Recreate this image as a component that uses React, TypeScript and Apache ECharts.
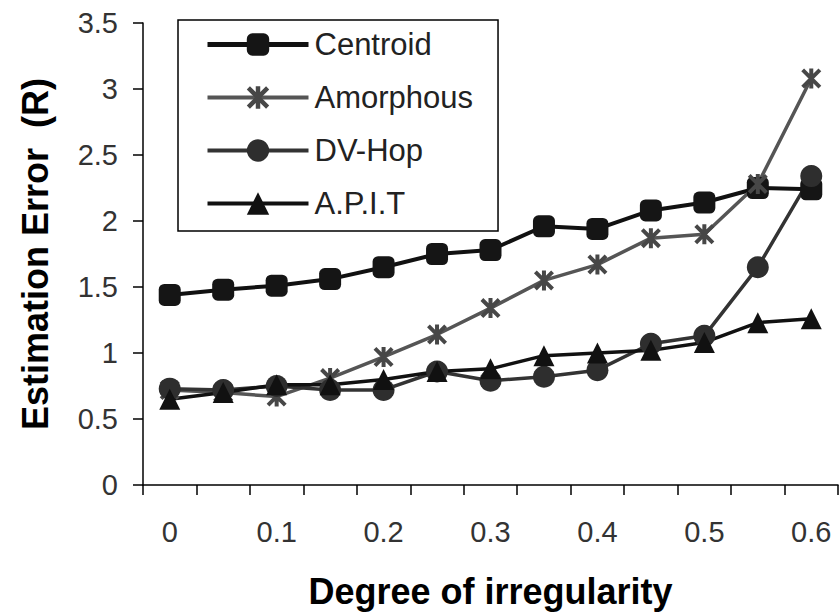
import React, { useEffect, useRef } from "react";
import * as echarts from "echarts";

const categories = ["0", "0.05", "0.1", "0.15", "0.2", "0.25", "0.3", "0.35", "0.4", "0.45", "0.5", "0.55", "0.6"];
const centroid = [1.44, 1.48, 1.51, 1.56, 1.65, 1.75, 1.78, 1.96, 1.94, 2.08, 2.14, 2.25, 2.24];
const amorphous = [0.72, 0.7, 0.67, 0.81, 0.97, 1.14, 1.34, 1.55, 1.67, 1.87, 1.9, 2.28, 3.08];
const dvHop = [0.73, 0.72, 0.75, 0.72, 0.72, 0.86, 0.79, 0.82, 0.87, 1.07, 1.13, 1.65, 2.34];
const apit = [0.65, 0.7, 0.76, 0.76, 0.8, 0.86, 0.88, 0.98, 1.0, 1.02, 1.08, 1.23, 1.26];
const seriesNames = ["Centroid", "Amorphous", "DV-Hop", "A.P.I.T"];
const lineColors = ["#111", "#555", "#333", "#111"];
const legendLineWidths = [5, 4, 4, 4];

const asterisk =
  "path://M4 0L6 0L6 10L4 10Z M0 1.4L1.4 0L10 8.6L8.6 10Z M8.6 0L10 1.4L1.4 10L0 8.6Z";

export default function App() {
  const ref = useRef<HTMLDivElement>(null);
  useEffect(() => {
    if (!ref.current) return;
    const chart = echarts.init(ref.current, undefined, { renderer: "svg" });
    const font = "Liberation Sans, Arial, sans-serif";
    chart.setOption({
      animation: false,
      backgroundColor: "#ffffff",
      textStyle: { fontFamily: font },
      grid: { left: 143, right: 1, top: 23, bottom: 129, containLabel: false },
      legend: {
        orient: "vertical",
        left: 178,
        top: 20,
        itemWidth: 101,
        itemHeight: 28,
        itemGap: 22,
        padding: [9, 25, 12, 27],
        borderColor: "#000",
        borderWidth: 1.5,
        backgroundColor: "#fff",
        textStyle: { fontSize: 31, color: "#222", fontFamily: font, padding: [0, 0, 0, 1] },
        data: seriesNames.map((n, i) => ({
          name: n,
          lineStyle: { width: legendLineWidths[i], color: lineColors[i] },
        })),
      },
      xAxis: {
        type: "category",
        data: categories,
        boundaryGap: true,
        name: "Degree of irregularity",
        nameLocation: "middle",
        nameGap: 88,
        nameTextStyle: { fontSize: 36, fontWeight: "bold", color: "#000", fontFamily: font },
        axisLine: { lineStyle: { color: "#000", width: 1.5 } },
        axisTick: { show: true, interval: 0, length: 10, lineStyle: { color: "#000", width: 1.5 } },
        axisLabel: { interval: 1, fontSize: 29, color: "#333", margin: 32, fontFamily: font },
        splitLine: { show: false },
      },
      yAxis: {
        type: "value",
        min: 0,
        max: 3.5,
        interval: 0.5,
        name: "Estimation Error  (R)",
        nameLocation: "middle",
        nameGap: 90,
        nameTextStyle: { fontSize: 36, fontWeight: "bold", color: "#000", fontFamily: font },
        axisLine: { show: true, lineStyle: { color: "#000", width: 1.5 } },
        axisTick: { show: true, length: 10, lineStyle: { color: "#000", width: 1.5 } },
        axisLabel: { fontSize: 29, color: "#333", margin: 25, fontFamily: font },
        splitLine: { show: false },
      },
      series: [
        {
          name: seriesNames[0],
          type: "line",
          data: centroid,
          symbol: "roundRect",
          symbolSize: 22,
          lineStyle: { color: lineColors[0], width: 4 },
          itemStyle: { color: "#151515" },
        },
        {
          name: seriesNames[1],
          type: "line",
          data: amorphous,
          symbol: asterisk,
          symbolSize: 20,
          lineStyle: { color: lineColors[1], width: 3.5 },
          itemStyle: { color: "#474747" },
        },
        {
          name: seriesNames[2],
          type: "line",
          data: dvHop,
          symbol: "circle",
          symbolSize: 22,
          lineStyle: { color: lineColors[2], width: 3.5 },
          itemStyle: { color: "#2e2e2e" },
        },
        {
          name: seriesNames[3],
          type: "line",
          data: apit,
          symbol: "triangle",
          symbolSize: 21,
          lineStyle: { color: lineColors[3], width: 3.5 },
          itemStyle: { color: "#111" },
        },
      ],
    });
    return () => chart.dispose();
  }, []);
  return (
    <div
      ref={ref}
      style={{ position: "fixed", left: 0, top: 0, width: 839, height: 614, background: "#fff" }}
    />
  );
}
